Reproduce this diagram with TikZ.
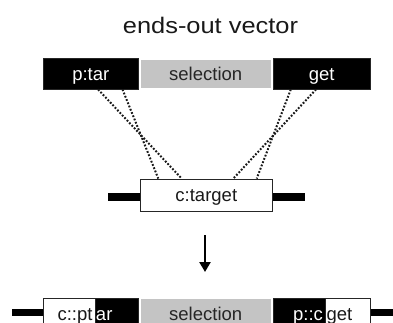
\documentclass[tikz,border=0pt]{standalone}
\usepackage{fontspec}
\setmainfont{Liberation Sans}
\newfontfamily\titlefont{Liberation Sans}[FakeStretch=1.13]
\usetikzlibrary{arrows.meta}
\definecolor{selgray}{RGB}{196,196,196}
\begin{document}
\begin{tikzpicture}[x=1pt,y=-1pt,
  box/.style={rectangle,inner sep=0pt,draw=black!85,line width=0.8pt,
    font=\fontsize{18.5}{20}\selectfont,text height=13.3pt,text depth=0pt},
  blackbox/.style={box,fill=black,text=white},
  whitebox/.style={box,fill=white,text=black!90},
  selbox/.style={box,fill=selgray,draw=none,text=black!85},
  bar/.style={fill=black,draw=none,rectangle,inner sep=0pt},
  lbl/.style={anchor=base,inner sep=0pt,font=\fontsize{18.5}{20}\selectfont},
  dotline/.style={line width=2pt,dash pattern=on 1.8pt off 1.7pt,black!90},
  bigarrow/.style={line width=2.8pt,-{Triangle[width=11pt,length=10pt]}}
]
\useasboundingbox (0,0) rectangle (393,323);
\clip (0,0) rectangle (393,323);

% title
\node[anchor=base,inner sep=0pt,text=black!90,font=\titlefont\fontsize{22.5}{24}\selectfont]
  (title) at (210.5,33.3) {ends-out vector};

% targeting vector
\node[blackbox,minimum width=95pt,minimum height=30.3pt] (ptar) at (90.8,73.85) {p:tar};
\node[selbox,minimum width=130pt,minimum height=27.7pt] (sel) at (205.7,73.85) {selection};
\node[blackbox,minimum width=96.7pt,minimum height=30.3pt] (get) at (321.7,73.85) {get};

% chromosomal target
\node[bar,minimum width=32pt,minimum height=8pt] (cbarl) at (124,196.7) {};
\node[bar,minimum width=32.3pt,minimum height=8pt] (cbarr) at (288.8,196.7) {};
\node[whitebox,minimum width=132.7pt,minimum height=32pt] (ctarget) at (206.3,195) {c:target};

% homology crossovers
\draw[dotline] ([xshift=7.3pt]ptar.south) -- ([xshift=-24.6pt]ctarget.north);
\draw[dotline] ([xshift=31.7pt]ptar.south) -- ([xshift=-48pt]ctarget.north);
\draw[dotline] ([xshift=-30.9pt]get.south) -- ([xshift=50.4pt]ctarget.north);
\draw[dotline] ([xshift=-5.7pt]get.south) -- ([xshift=27pt]ctarget.north);

% arrow
\coordinate (arrtop) at (205,235);
\coordinate (arrbot) at (205,272);
\draw[bigarrow] (arrtop) -- (arrbot);

% recombined locus
\node[bar,minimum width=31pt,minimum height=7pt] (rbarl) at (27.5,312.6) {};
\node[bar,minimum width=25pt,minimum height=7pt] (rbarr) at (382,312.6) {};
\node[whitebox,minimum width=52pt,minimum height=32pt] (lw) at (69.2,314.2) {};
\node[blackbox,minimum width=43pt,minimum height=32pt] (lb) at (116.7,314.2) {};
\node[selbox,minimum width=130pt,minimum height=32pt] (sel2) at (205.7,315) {};
\node[blackbox,minimum width=52pt,minimum height=32pt] (rb) at (299.2,314.2) {};
\node[whitebox,minimum width=45pt,minimum height=32pt] (rw) at (347.6,314.2) {};

\node[lbl,text=black!90] (t1) at (75,320.3) {c::pt};
\node[lbl,text=white] (t2) at (104.2,320.3) {ar};
\node[lbl,text=black!85] (t3) at (205.7,320.3) {selection};
\node[lbl,text=white] (t4) at (308,320.3) {p::c};
\node[lbl,text=black!90] (t5) at (339.5,320.3) {get};
\end{tikzpicture}
\end{document}
